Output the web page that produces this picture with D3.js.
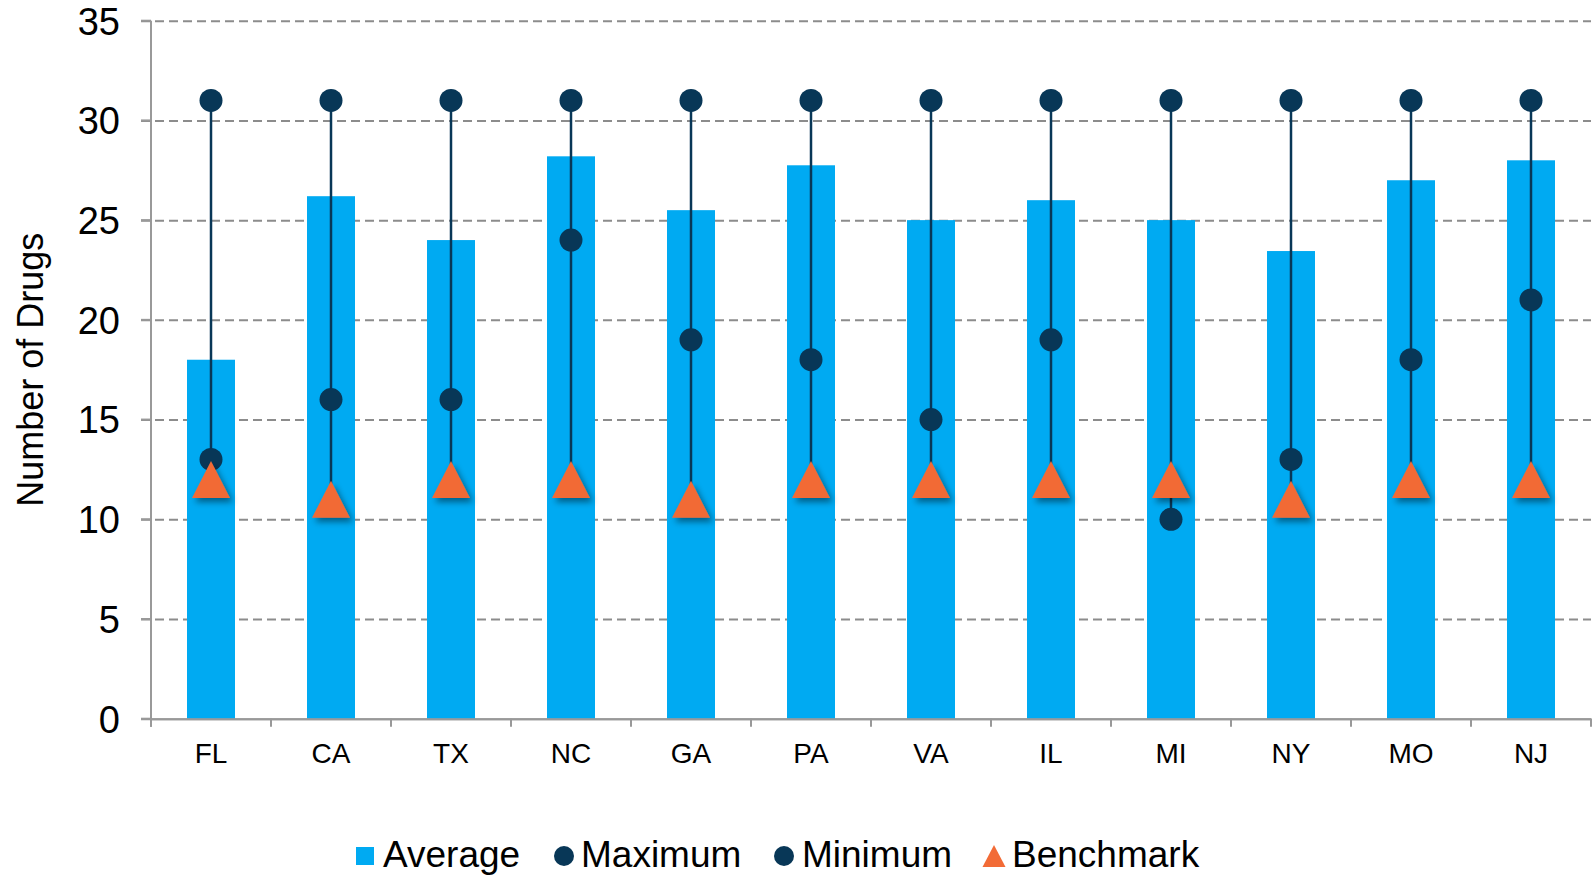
<!DOCTYPE html>
<html>
  <head>
    <title>Number of Drugs</title>
    <script src="https://d3js.org/d3.v7.min.js"></script>
    <style type="text/css">
      body {
        margin: 0;
        background: #ffffff;
      }
      text {
        font-family: "Liberation Sans", Arial, sans-serif;
        fill: #000000;
      }
    </style>
  </head>
  <body>
    <script>
      // Data
      var states = ["FL", "CA", "TX", "NC", "GA", "PA", "VA", "IL", "MI", "NY", "MO", "NJ"];
      var averageValues = [18, 26.2, 24, 28.2, 25.5, 27.75, 25, 26, 25, 23.45, 27, 28];
      var maximumValues = [31, 31, 31, 31, 31, 31, 31, 31, 31, 31, 31, 31];
      var minimumValues = [13, 16, 16, 24, 19, 18, 15, 19, 10, 13, 18, 21];
      var benchmarkValues = [12, 11, 12, 12, 11, 12, 12, 12, 12, 11, 12, 12];
      var yTicks = [0, 5, 10, 15, 20, 25, 30, 35];
      var legendNames = ["Average", "Maximum", "Minimum", "Benchmark"];

      var svgWidth = 1593;
      var svgHeight = 875;
      var plotLeft = 151;
      var plotRight = 1591;
      var plotTop = 20.7;
      var plotBottom = 718.7;

      var barColor = "#00AAF2";
      var dotColor = "#083757";
      var triColor = "#F26B36";
      var gridColor = "#8c8c8c";
      var axisColor = "#999999";

      var svg = d3.select("body")
                  .append("svg")
                  .attr("width", svgWidth)
                  .attr("height", svgHeight);

      // Shadow under the benchmark triangles
      var defs = svg.append("defs");
      defs.append("filter")
          .attr("id", "shadow")
          .attr("x", "-50%").attr("y", "-50%")
          .attr("width", "200%").attr("height", "200%")
          .append("feDropShadow")
          .attr("dx", 3)
          .attr("dy", 4)
          .attr("stdDeviation", 3)
          .attr("flood-color", "#000")
          .attr("flood-opacity", 0.45);

      var xBands = d3.scaleBand()
                     .domain(states)
                     .range([plotLeft, plotRight]);

      var yScale = d3.scaleLinear()
                     .domain([0, 35])
                     .range([plotBottom, plotTop]);

      var centre = function(i) { return xBands(states[i]) + xBands.bandwidth() / 2; };

      // Gridlines with the y axis labels
      var yAxis = d3.axisLeft(yScale)
                    .tickValues(yTicks)
                    .tickSize(-(plotRight - plotLeft + 10))
                    .tickFormat(d3.format("d"));

      var gy = svg.append("g")
                  .attr("transform", "translate(" + (plotLeft - 10) + ",0)")
                  .call(yAxis);
      gy.select(".domain").remove();
      gy.selectAll(".tick line")
        .attr("stroke-width", 2)
        .attr("stroke-dasharray", function(d) { return d === 0 ? null : "9,5"; })
        .attr("stroke", function(d) { return d === 0 ? axisColor : gridColor; });
      gy.selectAll(".tick text")
        .attr("font-size", "38px")
        .attr("dy", "0.35em")
        .attr("x", -21);

      // Short solid ticks left of the axis
      svg.selectAll(".ytick")
         .data(yTicks)
         .enter()
         .append("line")
         .attr("x1", plotLeft - 10)
         .attr("x2", plotLeft)
         .attr("y1", function(d) { return yScale(d); })
         .attr("y2", function(d) { return yScale(d); })
         .attr("stroke", axisColor)
         .attr("stroke-width", 2);

      // Bars
      svg.selectAll(".bar")
         .data(averageValues)
         .enter()
         .append("rect")
         .attr("class", "bar")
         .attr("x", function(d, i) { return centre(i) - 24; })
         .attr("width", 48)
         .attr("y", function(d) { return yScale(d); })
         .attr("height", function(d) { return yScale(0) - yScale(d); })
         .attr("fill", barColor);

      // Axes lines
      svg.append("line")
         .attr("x1", plotLeft).attr("x2", plotLeft)
         .attr("y1", plotTop).attr("y2", plotBottom + 8)
         .attr("stroke", axisColor).attr("stroke-width", 2);

      var xAxis = d3.axisBottom(xBands).tickSize(0).tickPadding(24);
      var gx = svg.append("g")
                  .attr("transform", "translate(0," + plotBottom + ")")
                  .call(xAxis);
      gx.select(".domain").attr("stroke", axisColor).attr("stroke-width", 2);
      gx.selectAll(".tick text").attr("font-size", "28px");

      // Tick marks between categories
      var edges = states.map(function(s) { return xBands(s); }).concat([plotRight]);
      svg.selectAll(".xtick")
         .data(edges)
         .enter()
         .append("line")
         .attr("x1", function(d) { return d; })
         .attr("x2", function(d) { return d; })
         .attr("y1", plotBottom)
         .attr("y2", plotBottom + 8)
         .attr("stroke", axisColor)
         .attr("stroke-width", 2);

      // High-low lines
      svg.selectAll(".hilo")
         .data(states)
         .enter()
         .append("line")
         .attr("x1", function(d, i) { return centre(i); })
         .attr("x2", function(d, i) { return centre(i); })
         .attr("y1", function(d, i) {
           return yScale(Math.max(maximumValues[i], minimumValues[i], benchmarkValues[i]));
         })
         .attr("y2", function(d, i) {
           return yScale(Math.min(maximumValues[i], minimumValues[i], benchmarkValues[i]));
         })
         .attr("stroke", dotColor)
         .attr("stroke-width", 2.5);

      // Maximum and minimum markers
      [maximumValues, minimumValues].forEach(function(series) {
        svg.append("g")
           .selectAll("circle")
           .data(series)
           .enter()
           .append("circle")
           .attr("cx", function(d, i) { return centre(i); })
           .attr("cy", function(d) { return yScale(d); })
           .attr("r", 11.5)
           .attr("fill", dotColor);
      });

      // Benchmark triangles
      var tri = "M0,-18.5L19,18.5L-19,18.5Z";
      svg.append("g")
         .selectAll("path")
         .data(benchmarkValues)
         .enter()
         .append("path")
         .attr("d", tri)
         .attr("transform", function(d, i) {
           return "translate(" + centre(i) + "," + yScale(d) + ")";
         })
         .attr("fill", triColor)
         .attr("filter", "url(#shadow)");

      // Y label
      svg.append("text")
         .attr("transform", "rotate(-90)")
         .attr("x", -(plotTop + plotBottom) / 2)
         .attr("y", 43)
         .attr("text-anchor", "middle")
         .attr("font-size", "36px")
         .text("Number of Drugs");

      // Legend
      var legendX = [356, 564, 784, 994];
      var textX = [383, 581, 802, 1012];
      var legendY = 856;
      var legend = svg.append("g");

      legend.append("rect")
            .attr("x", legendX[0]).attr("y", legendY - 9)
            .attr("width", 18).attr("height", 18)
            .attr("fill", barColor);
      legend.append("circle")
            .attr("cx", legendX[1]).attr("cy", legendY).attr("r", 10)
            .attr("fill", dotColor);
      legend.append("circle")
            .attr("cx", legendX[2]).attr("cy", legendY).attr("r", 10)
            .attr("fill", dotColor);
      legend.append("path")
            .attr("d", "M0,-11L11.5,11L-11.5,11Z")
            .attr("transform", "translate(" + legendX[3] + "," + legendY + ")")
            .attr("fill", triColor);

      legend.selectAll("text")
            .data(legendNames)
            .enter()
            .append("text")
            .attr("x", function(d, i) { return textX[i]; })
            .attr("y", legendY + 11)
            .attr("font-size", "37px")
            .text(function(d) { return d; });
    </script>
  </body>
</html>
